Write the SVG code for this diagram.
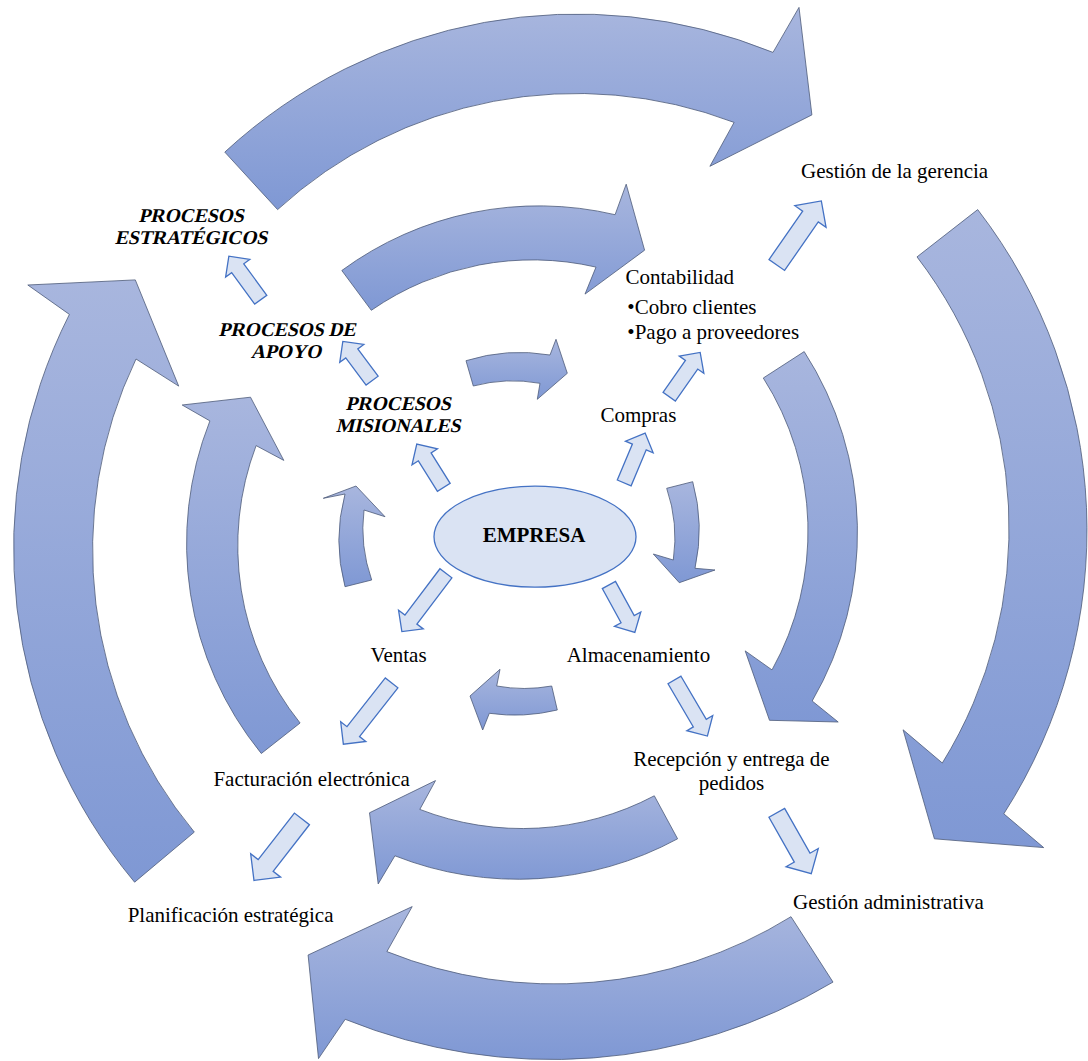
<svg xmlns="http://www.w3.org/2000/svg" width="1088" height="1061" viewBox="0 0 1088 1061">
<defs>
<linearGradient id="g" x1="0" y1="0" x2="0" y2="1">
<stop offset="0" stop-color="#A8B6DE"/>
<stop offset="1" stop-color="#7F98D4"/>
</linearGradient>
</defs>
<style>
.ring{fill:url(#g);stroke:#4d5a78;stroke-width:0.8;stroke-linejoin:miter}
.sa{fill:#DAE3F3;stroke:#4472C4;stroke-width:1.3;stroke-linejoin:miter}
.t{font-family:"Liberation Serif","Times New Roman",serif;font-size:21px;fill:#000}
.bi{font-weight:bold;font-size:19.5px}
.b{font-weight:bold}
.m{text-anchor:middle}
</style>
<rect width="1088" height="1061" fill="#fff"/>
<g id="ring-arrows">
<path class="ring" d="M224.8,152.1 A519,519 0 0 1 773,52.4 L799,7.4 L811.9,114.9 L709.9,166.3 L734.1,122.4 A443,443 0 0 0 277.6,209.6 Z"/>
<path class="ring" d="M977.7,209.6 A525,525 0 0 1 1003.8,813.8 L1043.7,847.6 L934.4,838.8 L903.1,729.8 L942.3,763 A446,446 0 0 0 917,256.9 Z"/>
<path class="ring" d="M833,982.1 A550,550 0 0 1 345.2,1019.3 L318.5,1058.6 L308.1,955 L412.2,906.6 L386.9,951.6 A450,450 0 0 0 791,916.7 Z"/>
<path class="ring" d="M134.6,882.2 A520,520 0 0 1 69.4,314.4 L27.8,285 L135.3,279.9 L178.7,386.1 L136,359 A442,442 0 0 0 194.3,832.1 Z"/>
<path class="ring" d="M341.8,270.5 A333,333 0 0 1 615.1,214.7 L626.2,184.2 L644.6,250.2 L585,294.1 L596,267.1 A283,283 0 0 0 371.3,310.3 Z"/>
<path class="ring" d="M804.2,351.6 A335,335 0 0 1 812.2,701 L838.2,722 L769.5,720.3 L745.2,650.9 L772,669.9 A285,285 0 0 0 763.3,378 Z"/>
<path class="ring" d="M677.6,838.8 A335,335 0 0 1 394.9,855.8 L378.2,883.9 L369.5,812.8 L435.5,780.6 L419.8,809.4 A283,283 0 0 0 654.3,795.8 Z"/>
<path class="ring" d="M261.3,753.5 A333,333 0 0 1 209.9,420.9 L182.2,405 L250.5,397.2 L283.8,460.4 L256.1,445.6 A283,283 0 0 0 300.1,723 Z"/>
<path class="ring" d="M466,360.7 A180,180 0 0 1 550,355 L556,339.3 L567.3,373.3 L537.3,399.3 L540,383.3 A154,154 0 0 0 473.3,386 Z"/>
<path class="ring" d="M692.7,481.7 A180,180 0 0 1 695,568.3 L715,570 L679.3,582.7 L653.3,554 L673.3,560 A154,154 0 0 0 666.7,488.3 Z"/>
<path class="ring" d="M557.3,710 A180,180 0 0 1 489.3,713.3 L482.7,730 L470,696 L500,669.3 L496.7,686 A154,154 0 0 0 551.7,686 Z"/>
<path class="ring" d="M345,586.7 A180,180 0 0 1 345,494 L323.3,498.3 L356,486 L385,516.7 L364,510 A154,154 0 0 0 371.7,580 Z"/>
</g>
<g id="connectors">
<path class="sa" transform="translate(260.75,299.7) rotate(-126.2)" d="M0,-7.5 H39 V-15 L54,0 L39,15 V7.5 H0 Z"/>
<path class="sa" transform="translate(372.1,380.65) rotate(-126.7)" d="M0,-7.5 H34 V-15 L49,0 L34,15 V7.5 H0 Z"/>
<path class="sa" transform="translate(443.8,487.35) rotate(-122)" d="M0,-7.5 H36 V-15 L51,0 L36,15 V7.5 H0 Z"/>
<path class="sa" transform="translate(776.8,265) rotate(-55.2)" d="M0,-9.5 H59 V-19 L78,0 L59,19 V9.5 H0 Z"/>
<path class="sa" transform="translate(669.2,396.7) rotate(-55)" d="M0,-7.5 H39 V-15 L54,0 L39,15 V7.5 H0 Z"/>
<path class="sa" transform="translate(624.2,482.9) rotate(-67.2)" d="M0,-7.5 H39 V-15 L54,0 L39,15 V7.5 H0 Z"/>
<path class="sa" transform="translate(445.9,573.3) rotate(127.1)" d="M0,-7.5 H58 V-15.5 L73,0 L58,15.5 V7.5 H0 Z"/>
<path class="sa" transform="translate(391.6,682.9) rotate(128.2)" d="M0,-8 H62 V-16 L78,0 L62,16 V8 H0 Z"/>
<path class="sa" transform="translate(301.9,818.9) rotate(127.9)" d="M0,-9.5 H59 V-19 L78,0 L59,19 V9.5 H0 Z"/>
<path class="sa" transform="translate(608.9,585) rotate(61.3)" d="M0,-7.5 H39 V-15 L54,0 L39,15 V7.5 H0 Z"/>
<path class="sa" transform="translate(674.5,680) rotate(59.6)" d="M0,-7.5 H50 V-15 L65,0 L50,15 V7.5 H0 Z"/>
<path class="sa" transform="translate(776.8,812.8) rotate(60.5)" d="M0,-9 H51.5 V-18.5 L70,0 L51.5,18.5 V9 H0 Z"/>
</g>
<g id="empresa">
<ellipse cx="535" cy="536.7" rx="101" ry="50.5" fill="#DAE3F3" stroke="#4472C4" stroke-width="1.3"/>
<text class="t b m" x="534" y="542.3">EMPRESA</text>
</g>
<g id="procesos-estrategicos">
<text class="t bi m" transform="translate(191,221.5) skewX(-13)" x="0" y="0">PROCESOS</text>
<text class="t bi m" transform="translate(191,243.5) skewX(-13)" x="0" y="0">ESTRATÉGICOS</text>
</g>
<g id="procesos-apoyo">
<text class="t bi m" transform="translate(287,336) skewX(-13)" x="0" y="0">PROCESOS DE</text>
<text class="t bi m" transform="translate(286,358) skewX(-13)" x="0" y="0">APOYO</text>
</g>
<g id="procesos-misionales">
<text class="t bi m" transform="translate(398,410) skewX(-13)" x="0" y="0">PROCESOS</text>
<text class="t bi m" transform="translate(398,432) skewX(-13)" x="0" y="0">MISIONALES</text>
</g>
<g id="gestion-gerencia"><text class="t" x="801" y="177.5">Gestión de la gerencia</text></g>
<g id="contabilidad"><text class="t" x="625.5" y="284">Contabilidad</text><text class="t" x="627.3" y="314.4">•Cobro clientes</text><text class="t" x="627.3" y="339.1">•Pago a proveedores</text></g>
<g id="compras"><text class="t" x="600.5" y="421.7">Compras</text></g>
<g id="ventas"><text class="t" x="370.6" y="662">Ventas</text></g>
<g id="almacenamiento"><text class="t" x="566.7" y="661.7">Almacenamiento</text></g>
<g id="recepcion"><text class="t m" x="731.4" y="766">Recepción y entrega de</text><text class="t m" x="731.4" y="789.5">pedidos</text></g>
<g id="facturacion"><text class="t" x="213.4" y="786.3">Facturación electrónica</text></g>
<g id="gestion-administrativa"><text class="t" x="793.1" y="908.6">Gestión administrativa</text></g>
<g id="planificacion"><text class="t" x="127.7" y="922.1">Planificación estratégica</text></g>
</svg>
